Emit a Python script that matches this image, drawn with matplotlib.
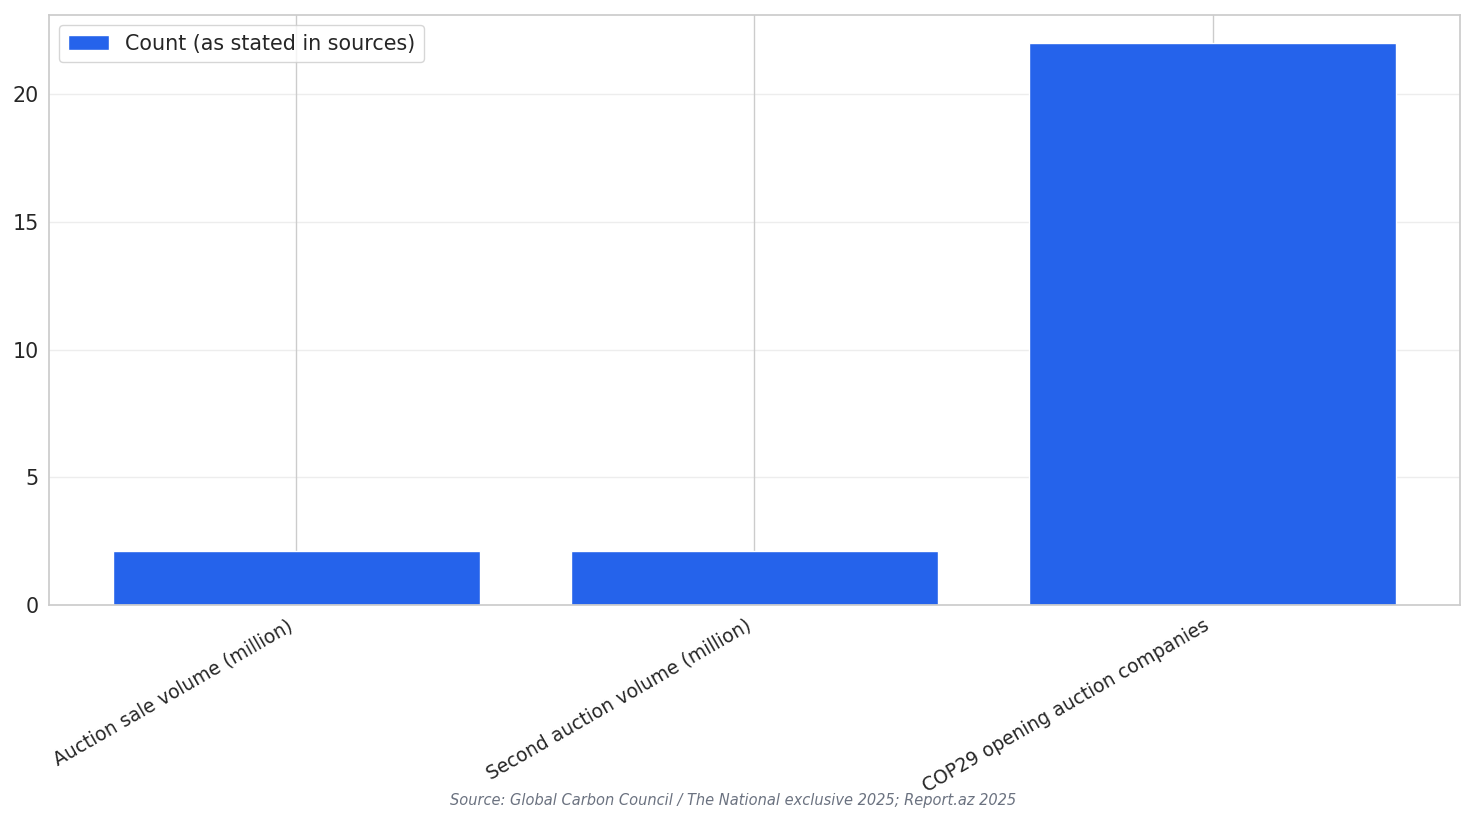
import matplotlib
matplotlib.use("Agg")
import matplotlib.pyplot as plt
import seaborn as sns

categories = [
    "Auction sale volume (million)",
    "Second auction volume (million)",
    "COP29 opening auction companies",
]
counts = [2.12, 2.12, 22]
series_label = "Count (as stated in sources)"
source_note = "Source: Global Carbon Council / The National exclusive 2025; Report.az 2025"

sns.set_theme(style="whitegrid", font_scale=1.35)
plt.rcParams["font.family"] = ["DejaVu Sans"]

fig, ax = plt.subplots(figsize=(14.75, 8.24), dpi=100)
ax.bar(categories, counts, color="#2563eb", label=series_label, width=0.8)
ax.grid(axis="y", alpha=0.35)
ax.legend(loc="upper left")
ax.tick_params(axis="x", labelsize=13.5, pad=2)
ax.tick_params(axis="y", pad=1.5)
plt.setp(ax.get_xticklabels(), rotation=30, ha="right")

fig.text(0.497, 1 - 801 / 824, source_note, ha="center", va="center", fontsize=10.5,
         style="italic", color="#6b7280")
fig.subplots_adjust(left=49 / 1475, right=1460 / 1475, top=1 - 15 / 824, bottom=1 - 605 / 824)
fig.savefig("out.png", dpi=100)
